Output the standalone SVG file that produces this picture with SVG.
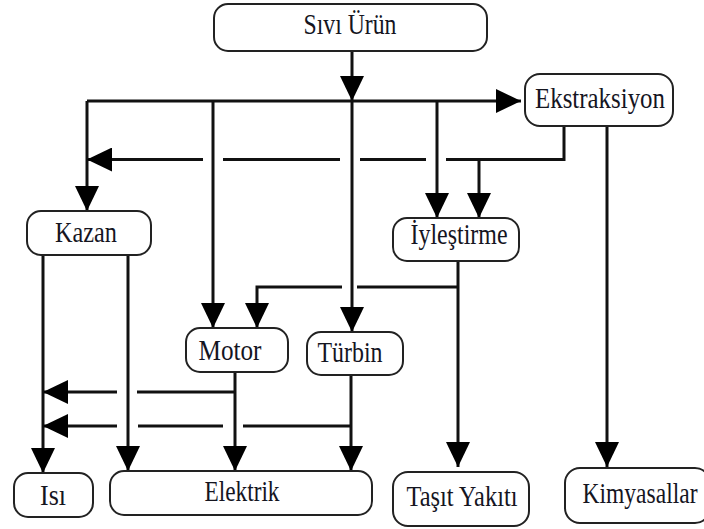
<svg xmlns="http://www.w3.org/2000/svg" width="704" height="529" viewBox="0 0 704 529">
  <defs>
    <marker id="ah" viewBox="0 0 25 24" markerWidth="25" markerHeight="24" markerUnits="userSpaceOnUse" refX="25" refY="12" orient="auto">
      <path d="M0,0 L25,12 L0,24 Z" fill="#000000" stroke="none"/>
    </marker>
  </defs>

  <rect width="704" height="529" fill="#ffffff"/>

  <!-- connectors: shared stroke set on the group -->
  <g id="connectors" fill="none" stroke="#111111" stroke-width="3">
    <!-- Sıvı Ürün down to the distribution line, then on to Türbin -->
    <path marker-end="url(#ah)" d="M352,52 V101"/>
    <path marker-end="url(#ah)" d="M352,101 V332"/>
    <!-- distribution line -->
    <path marker-end="url(#ah)" d="M87,101 H521"/>
    <path marker-end="url(#ah)" d="M87,101 V211"/>
    <path marker-end="url(#ah)" d="M213,101 V328"/>
    <path marker-end="url(#ah)" d="M437,101 V218"/>
    <!-- Ekstraksiyon return line (broken where it crosses verticals) -->
    <path d="M564,126 V159.5 H446"/>
    <path d="M426,159.5 H360"/>
    <path d="M340,159.5 H223"/>
    <path marker-end="url(#ah)" d="M203,159.5 H87"/>
    <path marker-end="url(#ah)" d="M479,159.5 V218"/>
    <!-- Ekstraksiyon to Kimyasallar -->
    <path marker-end="url(#ah)" d="M607,126 V467"/>
    <!-- İyleştirme outputs -->
    <path marker-end="url(#ah)" d="M458,261 V467"/>
    <path d="M458,287 H357"/>
    <path marker-end="url(#ah)" d="M342,287 H257 V328"/>
    <!-- Kazan outputs -->
    <path marker-end="url(#ah)" d="M43,255 V473"/>
    <path marker-end="url(#ah)" d="M128,255 V471"/>
    <!-- Motor outputs -->
    <path marker-end="url(#ah)" d="M235,372 V471"/>
    <path d="M235,392 H137"/>
    <path marker-end="url(#ah)" d="M117,392 H43"/>
    <!-- Türbin outputs -->
    <path marker-end="url(#ah)" d="M351,375 V471"/>
    <path d="M351,426 H243"/>
    <path d="M223,426 H138"/>
    <path marker-end="url(#ah)" d="M117,426 H43"/>
  </g>

  <!-- nodes: box look and font set once on the group -->
  <g id="nodes" fill="#ffffff" stroke="#222222" stroke-width="2" font-family="Liberation Serif, serif" font-size="24" text-anchor="middle">
    <g id="sivi-urun">
      <rect x="214" y="4" width="273" height="47" rx="14"/>
      <text fill="#15151f" stroke="none" transform="translate(350,34) scale(1,1.2)" textLength="93" lengthAdjust="spacingAndGlyphs">Sıvı Ürün</text>
    </g>
    <g id="ekstraksiyon">
      <rect x="525" y="74" width="148" height="52" rx="15"/>
      <text fill="#15151f" stroke="none" transform="translate(600,108) scale(1,1.2)" textLength="130" lengthAdjust="spacingAndGlyphs">Ekstraksiyon</text>
    </g>
    <g id="kazan">
      <rect x="27" y="211" width="124" height="44" rx="14"/>
      <text fill="#15151f" stroke="none" transform="translate(86,242) scale(1,1.2)" textLength="62" lengthAdjust="spacingAndGlyphs">Kazan</text>
    </g>
    <g id="iylestirme">
      <rect x="393" y="218" width="126" height="43" rx="14"/>
      <text fill="#15151f" stroke="none" transform="translate(459,244) scale(1,1.2)" textLength="97" lengthAdjust="spacingAndGlyphs">İyleştirme</text>
    </g>
    <g id="motor">
      <rect x="186" y="328" width="102" height="44" rx="14"/>
      <text fill="#15151f" stroke="none" transform="translate(230,360) scale(1,1.2)" textLength="63" lengthAdjust="spacingAndGlyphs">Motor</text>
    </g>
    <g id="turbin">
      <rect x="307" y="332" width="96" height="43" rx="14"/>
      <text fill="#15151f" stroke="none" transform="translate(350,362) scale(1,1.2)" textLength="65" lengthAdjust="spacingAndGlyphs">Türbin</text>
    </g>
    <g id="isi">
      <rect x="14" y="473" width="79" height="44" rx="14"/>
      <text fill="#15151f" stroke="none" transform="translate(53,505) scale(1,1.2)" textLength="26" lengthAdjust="spacingAndGlyphs">Isı</text>
    </g>
    <g id="elektrik">
      <rect x="110" y="471" width="262" height="44" rx="14"/>
      <text fill="#15151f" stroke="none" transform="translate(242,501) scale(1,1.2)" textLength="75" lengthAdjust="spacingAndGlyphs">Elektrik</text>
    </g>
    <g id="tasit-yakiti">
      <rect x="393" y="472" width="136" height="54" rx="15"/>
      <text fill="#15151f" stroke="none" transform="translate(462,506) scale(1,1.2)" textLength="111" lengthAdjust="spacingAndGlyphs">Taşıt Yakıtı</text>
    </g>
    <g id="kimyasallar">
      <rect x="565" y="468" width="145" height="55" rx="15"/>
      <text fill="#15151f" stroke="none" transform="translate(640,503) scale(1,1.2)" textLength="115" lengthAdjust="spacingAndGlyphs">Kimyasallar</text>
    </g>
  </g>
</svg>
